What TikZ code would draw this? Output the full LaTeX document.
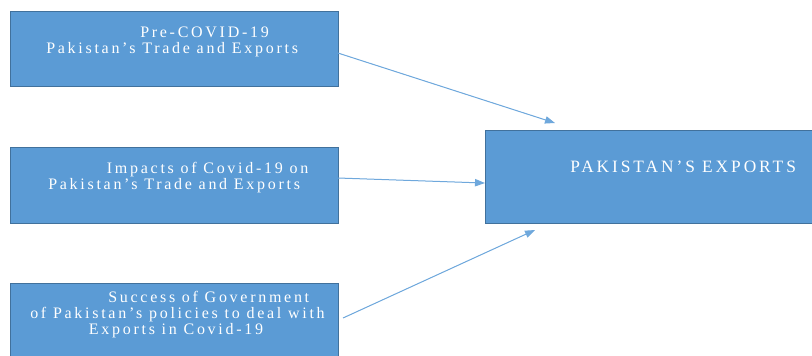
\documentclass[tikz,border=0pt]{standalone}
\usepackage{fontspec}
\setmainfont{Liberation Serif}[LetterSpace=17]
\usetikzlibrary{arrows.meta,positioning}
\definecolor{boxblue}{HTML}{5B9BD5}
\definecolor{boxline}{HTML}{41719C}
\definecolor{arblue}{HTML}{6FA8DC}

\begin{document}
\begin{tikzpicture}[x=0.75pt, y=-0.75pt,
  box/.style={draw=boxline, fill=boxblue, line width=0.75pt, rectangle,
              inner sep=0pt, outer sep=0pt, anchor=north west},
  txt/.style={text=white, align=left, inner sep=0pt, anchor=base west,
              font=\fontsize{12}{11.7}\selectfont},
  ar/.style={-{Triangle[length=7.5pt, width=5.5pt]}, draw=arblue, fill=arblue, line width=0.75pt},
]
\useasboundingbox (0,0) rectangle (812,355);
\clip (0,0) rectangle (812,355);
\node[box, minimum width=246pt, minimum height=56.25pt] (pre) at (10,11) {};
\node[box, minimum width=246pt, minimum height=57pt] (imp) at (10,147) {};
\node[box, minimum width=246pt, minimum height=60pt] (gov) at (10,283) {};
\node[box, minimum width=248pt, minimum height=69.75pt] (exp) at (485,130) {};
% text: anchor is the baseline of the last line
\node[txt] (pretxt) at (46,53.3) {\hspace*{70.5pt}Pre-COVID-19\\Pakistan’s Trade and Exports};
\node[txt] (imptxt) at (48,189) {\hspace*{44pt}Impacts of Covid-19 on\\Pakistan’s Trade and Exports};
\node[txt] (govtxt) at (30,334) {\hspace*{58.5pt}Success of Government\\of Pakistan’s policies to deal with\\\hspace*{44pt}Exports in Covid-19};
\node[txt, font=\fontsize{13}{13}\selectfont] (exptxt) at (570,172) {PAKISTAN’S EXPORTS};
\draw[ar] ([yshift=-3.4pt]pre.east) -- ([xshift=52.5pt, yshift=5.25pt]exp.north west);
\draw[ar] ([yshift=5.25pt]imp.east) -- ([yshift=-4.9pt]exp.west);
\draw[ar] ([xshift=3.75pt, yshift=-26.25pt]gov.north east) -- ([xshift=37.5pt, yshift=-5.25pt]exp.south west);
\end{tikzpicture}
\end{document}
